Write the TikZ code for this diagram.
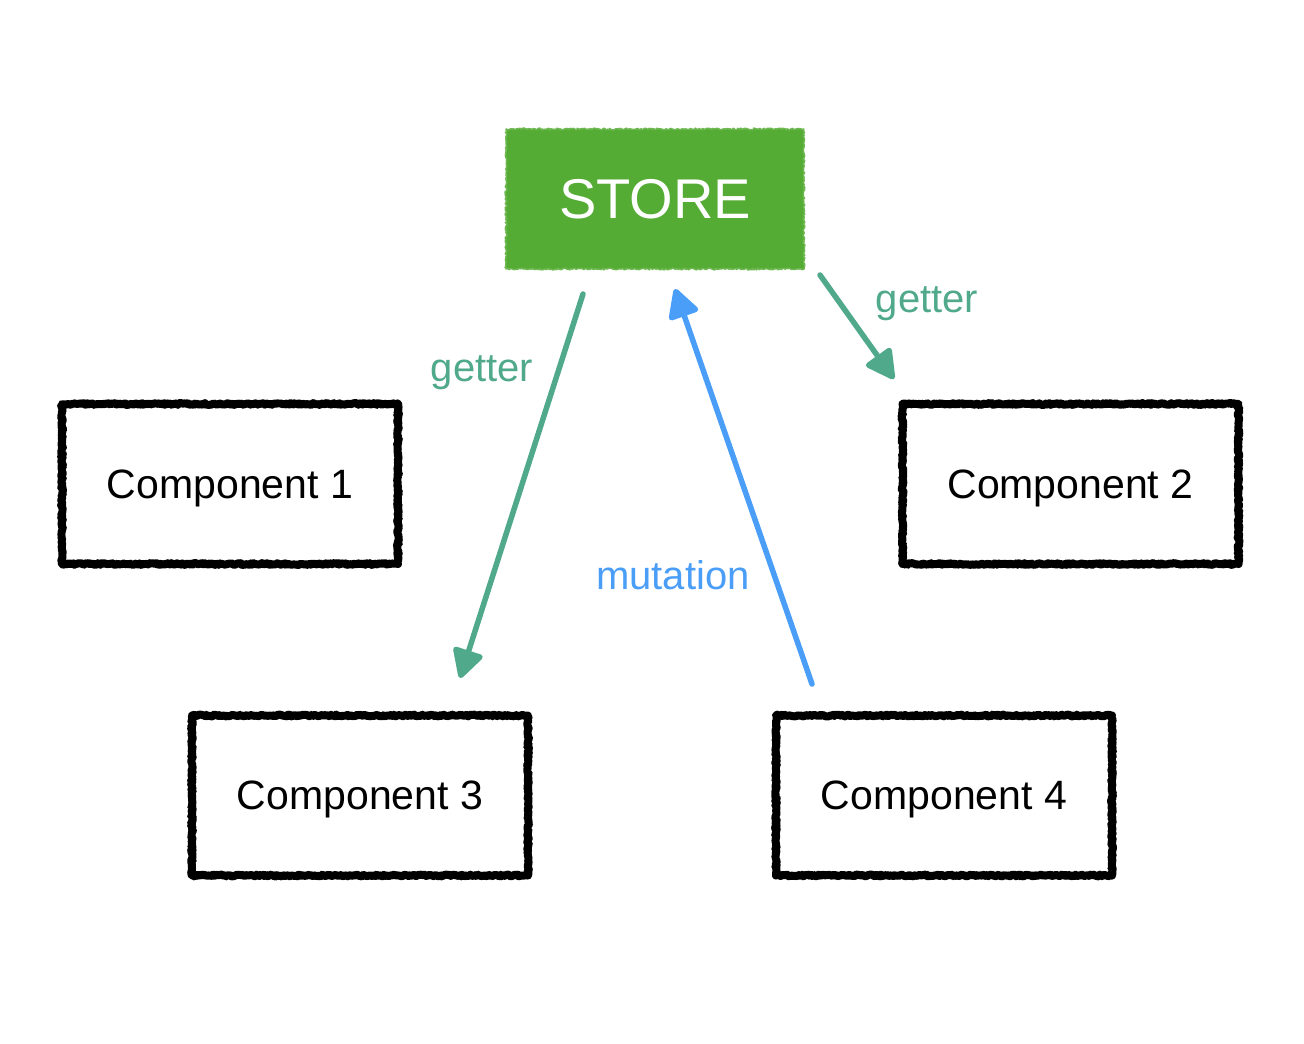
\documentclass[tikz,border=0pt]{standalone}
\usepackage{fontspec}
\setmainfont{Liberation Sans}
\usetikzlibrary{arrows.meta,decorations.pathmorphing}
\definecolor{storegreen}{HTML}{55AC34}
\definecolor{gettercol}{HTML}{4FA98A}
\definecolor{mutcol}{HTML}{4A9EF7}
\tikzset{
  rough/.style={decorate,decoration={random steps,segment length=1.3pt,amplitude=0.9pt},line join=round},
  compbox/.style={draw=black,line width=8pt,rough,rectangle,minimum width=336pt,minimum height=160pt,
    font=\fontsize{41}{48}\selectfont,inner sep=0pt,text depth=0pt},
  storebox/.style={fill=storegreen,draw=storegreen!85!white,line width=1.5pt,rough,rectangle,minimum width=298pt,minimum height=140pt,
    text=white,font=\fontsize{56}{64}\selectfont,inner sep=0pt,text depth=0pt},
  lbl/.style={font=\fontsize{40}{48}\selectfont,inner sep=0pt},
  conn/.style={line width=5.5pt,line cap=round,-{Triangle[length=32pt,width=33pt,round]}},
}
\begin{document}
\begin{tikzpicture}[x=1pt,y=-1pt]
\useasboundingbox (0,0) rectangle (1304,1044);
\node[storebox] (store) at (655,199) {STORE};
\node[compbox] (c1) at (230,484) {Component 1};
\node[compbox] (c2) at (1070.5,484) {Component 2};
\node[compbox] (c3) at (360,795.5) {Component 3};
\node[compbox] (c4) at (944,795.5) {Component 4};
\coordinate (g1s) at (583,294);
\coordinate (g1e) at (460,678);
\coordinate (ms) at (812,684);
\coordinate (me) at (675,289);
\coordinate (g2s) at (820,275);
\coordinate (g2e) at (894,379);
\draw[conn,draw=gettercol,fill=gettercol] (g1s) -- (g1e);
\draw[conn,draw=mutcol,fill=mutcol] (ms) -- (me);
\draw[conn,draw=gettercol,fill=gettercol] (g2s) -- (g2e);
\node[lbl,text=gettercol] (l1) at (482,373) {getter};
\node[lbl,text=gettercol] (l2) at (927,304) {getter};
\node[lbl,text=mutcol] (l3) at (673,575) {mutation};
\end{tikzpicture}
\end{document}
